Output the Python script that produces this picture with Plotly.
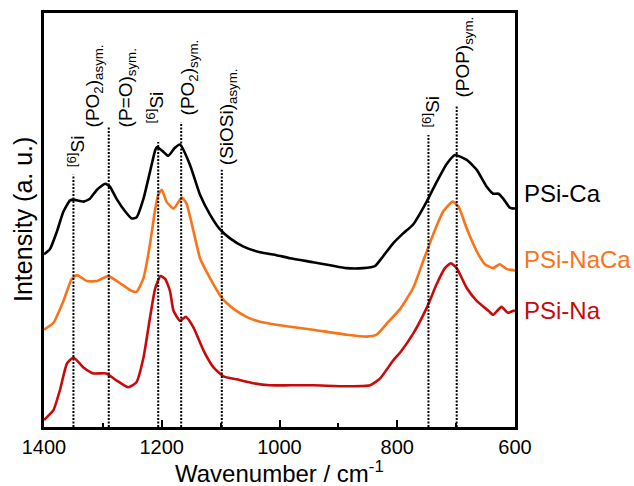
import plotly.graph_objects as go

# ---- spectra (wavenumber in cm^-1, intensity in arbitrary units, offset per sample) ----
wn_ca = [1400, 1390, 1378, 1367, 1356, 1350, 1333, 1322, 1310, 1296, 1288, 1277, 1262, 1251,
         1243, 1231, 1220, 1211, 1208, 1197, 1189, 1178, 1169, 1152, 1135, 1118, 1101, 1084,
         1062, 1033, 1005, 982, 943, 914, 886, 858, 838, 824, 807, 790, 773, 750, 733, 716,
         702, 682, 665, 648, 637, 628, 620, 609, 600]
int_ca = [1.74, 1.79, 1.97, 2.17, 2.28, 2.29, 2.27, 2.30, 2.39, 2.45, 2.42, 2.30, 2.17, 2.10,
          2.11, 2.30, 2.57, 2.79, 2.82, 2.77, 2.73, 2.81, 2.845, 2.64, 2.34, 2.14, 1.99, 1.90,
          1.82, 1.76, 1.73, 1.70, 1.66, 1.63, 1.60, 1.60, 1.62, 1.72, 1.85, 1.95, 2.04, 2.27,
          2.47, 2.65, 2.74, 2.69, 2.59, 2.42, 2.35, 2.35, 2.30, 2.21, 2.20]

wn_naca = [1400, 1384, 1367, 1353, 1344, 1327, 1310, 1291, 1271, 1254, 1243, 1231, 1220, 1211,
           1206, 1200, 1192, 1180, 1166, 1158, 1146, 1135, 1118, 1098, 1078, 1056, 1033, 1005,
           982, 943, 886, 852, 835, 818, 795, 773, 756, 739, 722, 706, 696, 682, 665, 651,
           637, 626, 614, 603, 600]
int_naca = [0.98, 1.05, 1.27, 1.49, 1.53, 1.47, 1.47, 1.52, 1.45, 1.38, 1.36, 1.50, 1.84, 2.20,
            2.34, 2.39, 2.27, 2.20, 2.31, 2.25, 1.97, 1.70, 1.50, 1.30, 1.19, 1.11, 1.06, 1.03,
            1.01, 0.98, 0.93, 0.91, 0.93, 1.04, 1.19, 1.40, 1.67, 1.94, 2.17, 2.27, 2.22, 2.00,
            1.77, 1.64, 1.60, 1.64, 1.59, 1.58, 1.575]

wn_na = [1400, 1384, 1373, 1361, 1350, 1333, 1316, 1294, 1277, 1257, 1243, 1231, 1220, 1211,
         1202, 1194, 1186, 1180, 1169, 1159, 1146, 1129, 1112, 1095, 1073, 1044, 1016, 982,
         943, 886, 846, 829, 807, 795, 773, 750, 733, 719, 709, 699, 682, 665, 645, 637,
         623, 612, 603, 600]
int_na = [0.07, 0.17, 0.37, 0.64, 0.70, 0.60, 0.54, 0.54, 0.47, 0.40, 0.45, 0.70, 1.10, 1.40,
          1.52, 1.49, 1.37, 1.17, 1.07, 1.11, 1.00, 0.77, 0.60, 0.51, 0.48, 0.44, 0.42, 0.42,
          0.42, 0.41, 0.42, 0.49, 0.67, 0.75, 0.94, 1.20, 1.44, 1.60, 1.65, 1.60, 1.40, 1.27,
          1.17, 1.13, 1.21, 1.15, 1.17, 1.17]

sample_names = ["PSi-Ca", "PSi-NaCa", "PSi-Na"]

# ---- band assignments ----
band_wn = [1350, 1290, 1206, 1167, 1098, 747, 699]
band_top = [2.54, 3.02, 2.87, 3.07, 2.59, 2.94, 3.24]

band_labels = ["<sup>[6]</sup>Si", "(PO<sub>2</sub>)<sub>asym.</sub>", "(P=O)<sub>sym.</sub>",
               "<sup>[6]</sup>Si", "(PO<sub>2</sub>)<sub>sym.</sub>", "(SiOSi)<sub>asym.</sub>",
               "<sup>[6]</sup>Si", "(POP)<sub>sym.</sub>"]
label_band = [1350, 1290, 1290, 1206, 1167, 1098, 747, 699]
label_base = [2.60, 3.00, 3.00, 3.04, 3.12, 2.62, 3.00, 3.30]

# ---- styling ----
colors = ["#000000", "#FA7319", "#C80A0A"]
label_xshift = [2, -15, 18, -3, 8, 7, 3, 7]
name_ypos = [0.565, 0.4046, 0.2806]
FONT = "Liberation Sans, Arial, sans-serif"

fig = go.Figure()
for wn, inten, name, col in zip([wn_ca, wn_naca, wn_na], [int_ca, int_naca, int_na],
                                sample_names, colors):
    fig.add_trace(go.Scatter(x=wn, y=inten, mode="lines", name=name,
                             line=dict(color=col, width=2.6, shape="spline", smoothing=0.5),
                             showlegend=False, hoverinfo="skip"))

for wn, top in zip(band_wn, band_top):
    fig.add_shape(type="line", xref="x", yref="y", x0=wn, x1=wn, y0=0, y1=top,
                  line=dict(color="black", width=2, dash="2px,1.5px"), layer="above")

annotations = []
for text, wn, base, dx in zip(band_labels, label_band, label_base, label_xshift):
    annotations.append(dict(text=text, x=wn, y=base, xref="x", yref="y", xshift=dx,
                            textangle=-90, xanchor="center", yanchor="bottom",
                            showarrow=False, font=dict(family=FONT, size=19, color="black")))

for name, col, yp in zip(sample_names, colors, name_ypos):
    annotations.append(dict(text=name, x=1.0142, y=yp, xref="paper", yref="paper",
                            xanchor="left", yanchor="middle", showarrow=False,
                            font=dict(family=FONT, size=24, color=col)))

annotations.append(dict(text="Wavenumber / cm<sup>-1</sup>", x=0.5, y=-0.108,
                        xref="paper", yref="paper", xanchor="center", yanchor="middle",
                        showarrow=False, font=dict(family=FONT, size=24, color="black")))
annotations.append(dict(text="Intensity (a. u.)", x=-0.045, y=0.502, textangle=-90,
                        xref="paper", yref="paper", xanchor="center", yanchor="middle",
                        showarrow=False, font=dict(family=FONT, size=25, color="black")))

fig.update_layout(
    width=634, height=486,
    margin=dict(l=44, r=119, t=10, b=59),
    paper_bgcolor="white", plot_bgcolor="white",
    annotations=annotations,
    xaxis=dict(range=[1400, 600], tickvals=[1400, 1200, 1000, 800, 600],
               ticks="inside", ticklen=7, tickwidth=2, tickcolor="black",
               minor=dict(tickvals=[1300, 1100, 900, 700], ticks="inside", ticklen=4,
                          tickwidth=2, tickcolor="black"),
               showline=True, linewidth=2.5, linecolor="black", mirror=True,
               showgrid=False, zeroline=False,
               tickfont=dict(family=FONT, size=20, color="black")),
    yaxis=dict(range=[0, 4.17], showticklabels=False, ticks="",
               showline=True, linewidth=2.5, linecolor="black", mirror=True,
               showgrid=False, zeroline=False),
)

fig.write_html("out.html")
